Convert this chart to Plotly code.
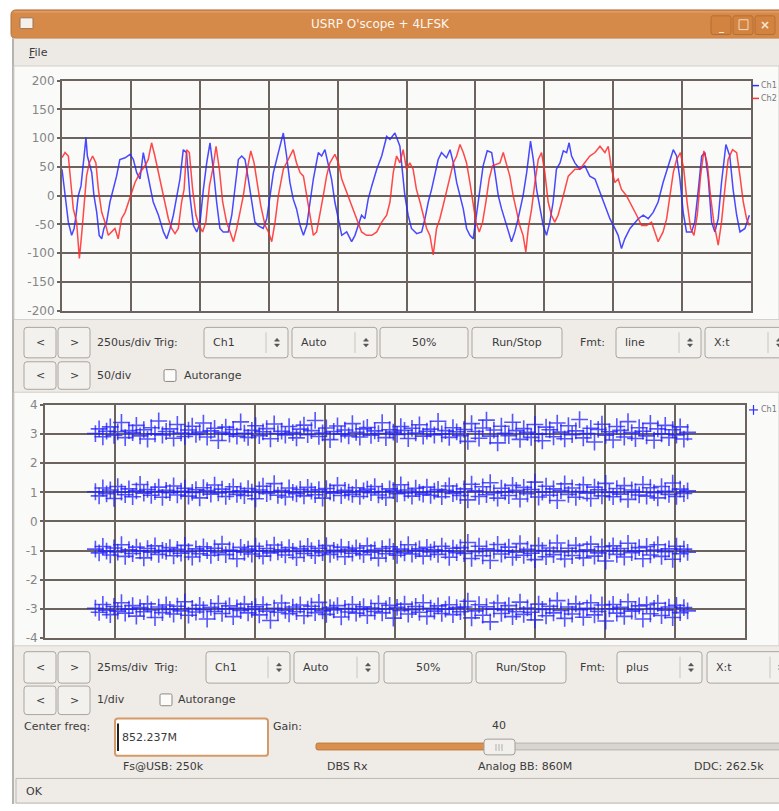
import numpy as np
import plotly.graph_objects as go

W, H = 779, 811

# ---------------- data: top scope (time in us, amplitude) ----------------
ch1_t = [0, 11, 23, 35, 44, 51, 59, 69, 77, 87, 92, 99, 108, 116, 126, 135, 144, 152, 162, 174, 186, 198, 210, 229, 247,
         259, 271, 283, 295, 307, 319, 331, 350, 368, 380, 392, 404, 416, 428, 440, 452, 464, 477, 489, 501, 513, 525, 537,
         549, 561, 573, 585, 603, 616, 628, 640, 652, 664, 676, 688, 700, 712, 730, 743, 755, 767, 785, 803, 815, 827, 839,
         851, 864, 876, 888, 900, 912, 930, 942, 954, 966, 978, 990, 1003, 1015, 1033, 1051, 1063, 1075, 1087, 1099, 1111,
         1124, 1142, 1160, 1178, 1190, 1208, 1226, 1236, 1244, 1256, 1268, 1287, 1305, 1317, 1329, 1341, 1353, 1365, 1377,
         1395, 1408, 1420, 1432, 1444, 1456, 1468, 1480, 1492, 1504, 1516, 1528, 1543, 1559, 1571, 1583, 1595, 1613, 1631,
         1643, 1655, 1673, 1686, 1700, 1710, 1722, 1734, 1746, 1758, 1770, 1782, 1794, 1807, 1819, 1831, 1840, 1849, 1861,
         1879, 1897, 1915, 1934, 1952, 1970, 1988, 2006, 2018, 2030, 2042, 2061, 2079, 2091, 2109, 2127, 2145, 2163, 2181,
         2200, 2218, 2230, 2242, 2254, 2266, 2284, 2296, 2309, 2321, 2333, 2345, 2357, 2369, 2381, 2393, 2409, 2423, 2435,
         2448, 2460, 2478, 2494]
ch1_v = [46, 0, -46, -69, -57, -34, 0, 17, 57, 101, 69, 57, 40, 0, -29, -69, -75, -57, -46, -11, 11, 34, 63, 66, 72,
         63, 40, 29, 75, 46, 17, -11, -34, -63, -75, -57, -34, 0, 29, 80, 75, 0, -52, -63, -46, 11, 57, 92,
         46, -11, -57, -63, -63, -34, 11, 63, 69, 63, 29, -11, -46, -52, -57, -40, 0, 40, 75, 109, 69, 23, -6,
         -23, -52, -69, -52, -11, 29, 75, 69, 80, 57, 29, -11, -40, -69, -63, -80, -69, -52, -34, -40, -6,
         17, 46, 69, 103, 98, 109, 86, 40, 0, -34, -57, -66, -63, -40, -11, 11, 40, 63, 75,
         66, 80, 57, 23, 0, -23, -57, -69, -75, -34, 11, 52, 78, 75, 40, 0, -23, -52, -80,
         -63, -40, 0, 40, 95, 63, 11, -23, -52, -69, -46, -11, 46, 57, 78, 75, 92, 69, 57,
         46, 52, 34, 29, 6, -17, -40, -57, -69, -92, -75, -57, -46, -40, -34, -40, -29, -11, 23,
         52, 80, 69, 29, -29, -63, -63, -46, 11, 69, 75, 29, -46, -63, -40, 23, 89, 69, 11,
         -34, -63, -57, -34]

ch2_t = [0, 11, 23, 31, 41, 53, 63, 71, 80, 89, 99, 111, 123, 132, 144, 156, 168, 180, 192, 204, 216, 229, 241, 253,
         265, 283, 301, 313, 325, 337, 350, 362, 374, 386, 398, 410, 422, 434, 443, 452, 462, 474, 486, 498, 510, 522,
         535, 547, 559, 571, 583, 597, 610, 622, 634, 646, 658, 670, 685, 697, 709, 721, 737, 749, 761, 773, 785, 803,
         821, 839, 851, 864, 876, 888, 900, 912, 924, 936, 948, 960, 972, 990, 1003, 1015, 1033, 1051, 1069, 1087, 1105,
         1124, 1142, 1160, 1178, 1190, 1202, 1214, 1226, 1238, 1250, 1262, 1274, 1286, 1299, 1311, 1323, 1335, 1347,
         1359, 1371, 1383, 1395, 1407, 1420, 1432, 1444, 1456, 1468, 1480, 1492, 1502, 1514, 1526, 1538, 1550, 1562,
         1577, 1589, 1601, 1613, 1625, 1637, 1649, 1661, 1673, 1683, 1692, 1704, 1716, 1728, 1740, 1752, 1764, 1776,
         1788, 1800, 1813, 1825, 1837, 1849, 1861, 1879, 1897, 1915, 1934, 1952, 1970, 1982, 1994, 2006, 2018, 2030,
         2048, 2067, 2085, 2103, 2121, 2139, 2151, 2163, 2181, 2194, 2206, 2218, 2230, 2244, 2256, 2268, 2281, 2293,
         2305, 2317, 2329, 2341, 2353, 2365, 2381, 2393, 2405, 2417, 2433, 2448, 2460, 2472, 2484, 2494]
ch2_v = [66, 75, 69, 29, -23, -46, -109, -69, -11, 34, 57, 69, 57, 11, -29, -46, -69, -63, -57, -75, -40, -29, -11, 6,
         23, 40, 52, 63, 92, 69, 40, 11, -17, -40, -57, -66, -57, -11, 11, 80, 75, 11, -34, -52, -63, -46,
         17, 46, 86, 46, -11, -46, -63, -80, -57, -29, 0, 40, 78, 57, 17, -17, -52, -63, -80, -46, 0, 46,
         63, 80, 57, 40, 34, 0, -34, -69, -63, -34, 0, 34, 57, 72, 57, 29, 6, -17, -40, -63, -69,
         -69, -63, -46, -34, -11, 40, 69, 57, 80, 46, 57, 46, 11, -11, -34, -57, -69, -103,
         -57, -40, -17, 6, 29, 57, 69, 89, 75, 57, 23, -11, -46, -63, -46, -11, 29, 52,
         55, 57, 75, 52, 34, 0, -29, -52, -69, -98, -57, -23, 23, 63, 75, 40, -11, -34,
         -46, -34, -11, 11, 34, 40, 46, 46, 57, 69, 75, 86, 75, 86, 46, 23, 29, 11,
         0, -17, -34, -52, -52, -46, -63, -80, -63, -40, 0, 40, 63, 75, 46, -11, -57, -69,
         -34, 34, 78, 57, 0, -46, -86, -46, 11, 63, 80, 75, 34, -11, -40, -52]

# ---------------- data: bottom scope (4-level symbols) ----------------
sym_p3 = [3.02, 3.18, 2.91, 3.10, 3.25, 2.96, 3.08, 3.40, 2.88, 3.12, 3.05, 3.30, 2.94, 3.15, 2.83, 3.22, 3.01, 3.45,
          2.97, 3.09, 3.18, 2.86, 3.33, 3.04, 2.92, 3.14, 3.27, 2.99, 3.07, 3.38, 2.90, 3.11, 3.20, 2.78, 3.06, 3.24,
          3.00, 3.16, 2.93, 3.42, 3.03, 2.89, 3.13, 3.29, 2.95, 3.08, 3.19, 2.84, 3.35, 3.02, 3.10, 2.97, 3.26, 3.05,
          2.87, 3.17, 3.31, 2.98, 3.12, 3.47, 2.92, 3.04, 3.21, 2.81, 3.09, 3.28, 3.00, 3.14, 2.94, 3.36, 3.06, 2.90,
          3.18, 3.23, 2.96, 3.11, 3.02, 3.39, 2.88, 3.15, 3.07, 2.99, 3.26, 3.13, 2.85, 3.20, 3.04, 3.32, 2.93, 3.10,
          3.17, 2.97, 3.44, 3.01, 3.12, 2.89, 3.22, 3.08, 2.95, 3.16,
          2.75, 3.36, 3.09, 2.86, 3.21, 3.48, 2.93, 3.14, 2.70, 3.27, 3.03, 2.95, 3.41, 3.12, 2.82, 3.19, 3.06, 2.89,
          3.33, 3.00, 2.77, 3.24, 3.15, 2.91, 3.38, 3.07, 2.84, 3.29, 2.98, 3.11, 3.50, 2.87, 3.02, 3.20, 2.73, 3.16,
          3.34, 2.96, 3.08, 2.80, 3.26, 3.13, 2.90, 3.43, 3.05, 2.85, 3.22, 3.10, 2.94, 3.37, 2.79, 3.18, 3.01, 3.30,
          2.88, 3.15, 2.97, 3.25, 2.83, 3.06]
sym_p1 = [1.02, 0.88, 1.15, 0.95, 1.08, 0.79, 1.20, 1.01, 0.92, 1.12, 0.85, 1.05, 1.27, 0.97, 1.10, 0.90, 1.03, 1.18,
          0.83, 1.07, 0.99, 1.22, 0.91, 1.04, 1.14, 0.87, 1.00, 1.09, 0.81, 1.16, 1.06, 0.94, 1.25, 0.98, 1.11, 0.86,
          1.03, 1.19, 0.93, 1.05, 0.89, 1.13, 1.01, 0.78, 1.08, 1.21, 0.96, 1.02, 1.30, 0.90, 1.06, 0.84, 1.15, 1.00,
          0.95, 1.10, 0.88, 1.17, 1.04, 0.92, 1.09, 0.80, 1.13, 1.02, 0.97, 1.24, 0.89, 1.07, 1.01, 0.93, 1.16, 0.86,
          1.05, 1.11, 0.99, 1.20, 0.91, 1.03, 0.82, 1.12, 1.06, 0.95, 1.26, 0.98, 1.08, 0.87, 1.14, 1.00, 0.94, 1.18,
          0.90, 1.04, 1.10, 0.85, 1.07, 1.22, 0.96, 1.02, 0.89, 1.12,
          0.74, 1.28, 1.05, 0.86, 1.19, 0.92, 1.33, 0.98, 0.80, 1.14, 1.02, 0.89, 1.24, 1.07, 0.77, 1.17, 0.95, 1.10,
          1.35, 0.84, 1.01, 1.21, 0.90, 1.12, 0.72, 1.06, 1.29, 0.93, 1.15, 0.83, 1.03, 1.26, 0.97, 0.79, 1.18, 1.09,
          0.88, 1.31, 1.00, 0.85, 1.13, 0.94, 1.23, 0.76, 1.08, 1.02, 0.91, 1.27, 0.87, 1.16, 0.99, 0.81, 1.20, 1.04,
          0.93, 1.32, 0.86, 1.11, 0.96, 1.05]
sym_m1 = [-0.95, -1.08, -0.86, -1.02, -1.15, -0.91, -1.05, -0.80, -1.20, -0.97, -1.10, -0.88, -1.01, -1.25, -0.93,
          -1.06, -0.84, -1.13, -0.99, -1.03, -0.90, -1.18, -0.96, -1.09, -0.82, -1.04, -1.22, -0.94, -1.11, -0.87,
          -1.00, -1.16, -0.92, -1.07, -0.78, -1.14, -0.98, -1.02, -1.28, -0.89, -1.06, -0.95, -1.12, -0.85, -1.01,
          -1.19, -0.93, -1.08, -0.81, -1.04, -0.97, -1.15, -0.90, -1.03, -1.24, -0.94, -1.10, -0.86, -1.00, -1.17,
          -0.92, -1.07, -0.83, -1.13, -0.99, -1.05, -0.88, -1.21, -0.96, -1.09, -0.91, -1.02, -1.14, -0.84, -1.06,
          -0.98, -1.26, -0.93, -1.11, -0.87, -1.03, -1.16, -0.95, -1.08, -0.80, -1.12, -1.00, -0.94, -1.19, -0.89,
          -1.05, -0.97, -1.13, -0.85, -1.01, -1.23, -0.92, -1.07, -0.90, -1.10,
          -0.72, -1.27, -1.04, -0.85, -1.18, -0.94, -1.34, -0.99, -0.79, -1.12, -1.01, -0.88, -1.23, -1.06, -0.76,
          -1.16, -0.96, -1.09, -1.31, -0.83, -1.00, -1.21, -0.91, -1.14, -0.74, -1.05, -1.29, -0.92, -1.17, -0.82,
          -1.03, -1.25, -0.97, -0.78, -1.19, -1.08, -0.87, -1.36, -1.00, -0.84, -1.13, -0.93, -1.22, -0.75, -1.07,
          -1.02, -0.90, -1.28, -0.86, -1.15, -0.98, -0.80, -1.20, -1.04, -0.94, -1.30, -0.85, -1.11, -0.95, -1.06]
sym_m3 = [-2.98, -3.12, -2.85, -3.05, -3.20, -2.92, -3.08, -2.79, -3.15, -3.01, -2.89, -3.25, -2.96, -3.10, -2.83,
          -3.04, -3.30, -2.94, -3.13, -2.87, -3.02, -3.18, -2.91, -3.07, -2.76, -3.22, -2.99, -3.11, -2.88, -3.03,
          -3.35, -2.95, -3.09, -2.82, -3.16, -3.00, -2.90, -3.27, -2.97, -3.06, -2.84, -3.14, -3.02, -2.93, -3.21,
          -2.86, -3.08, -3.40, -2.98, -3.12, -2.80, -3.05, -3.17, -2.94, -3.10, -2.87, -3.24, -3.01, -2.91, -3.13,
          -2.78, -3.07, -3.19, -2.96, -3.04, -2.89, -3.28, -2.99, -3.11, -2.85, -3.15, -3.02, -2.93, -3.23, -2.97,
          -3.09, -2.82, -3.14, -3.00, -2.88, -3.32, -2.95, -3.06, -2.84, -3.18, -3.03, -2.92, -3.12, -2.79, -3.26,
          -2.98, -3.08, -2.90, -3.16, -3.01, -2.86, -3.20, -2.96, -3.10, -2.94,
          -2.74, -3.31, -3.07, -2.86, -3.22, -2.93, -3.45, -3.01, -2.80, -3.16, -3.04, -2.89, -3.27, -3.10, -2.77,
          -3.19, -2.97, -3.12, -3.38, -2.84, -3.02, -3.24, -2.91, -3.14, -2.72, -3.06, -3.33, -2.94, -3.18, -2.83,
          -3.03, -3.29, -2.98, -2.79, -3.21, -3.09, -2.87, -3.42, -3.00, -2.85, -3.15, -2.95, -3.26, -2.76, -3.08,
          -3.03, -2.90, -3.35, -2.86, -3.17, -2.99, -2.81, -3.23, -3.05, -2.94, -3.30, -2.88, -3.13, -2.96, -3.07]
sym_t_start, sym_t_end = 18.0, 229.5  # ms

top_yticks = [200, 150, 100, 50, 0, -50, -100, -150, -200]
top_yticklabels = ["200", "150", "100", "50", "0", "-50", "-100", "-150", "-200"]
bot_yticks = [4, 3, 2, 1, 0, -1, -2, -3, -4]
bot_yticklabels = ["4", "3", "2", "1", "0", "-1", "-2", "-3", "-4"]

# ---------------- helpers ----------------
def X(p):
    return p / W

def Y(p):
    return 1 - p / H

FONT = "DejaVu Sans"
TXT = "#3b3b3b"
shapes = []
annots = []

def rect(x0, y0, x1, y1, fill, line=None, lw=1):
    shapes.append(dict(type="rect", xref="paper", yref="paper", x0=X(x0), x1=X(x1), y0=Y(y1), y1=Y(y0),
                       fillcolor=fill, line=dict(color=line or fill, width=lw if line else 0), layer="below"))

def rrect(x0, y0, x1, y1, r, fill, line, lw=1, layer="below"):
    p = (f"M {X(x0 + r)},{Y(y0)} L {X(x1 - r)},{Y(y0)} Q {X(x1)},{Y(y0)} {X(x1)},{Y(y0 + r)} "
         f"L {X(x1)},{Y(y1 - r)} Q {X(x1)},{Y(y1)} {X(x1 - r)},{Y(y1)} L {X(x0 + r)},{Y(y1)} "
         f"Q {X(x0)},{Y(y1)} {X(x0)},{Y(y1 - r)} L {X(x0)},{Y(y0 + r)} Q {X(x0)},{Y(y0)} {X(x0 + r)},{Y(y0)} Z")
    shapes.append(dict(type="path", xref="paper", yref="paper", path=p, fillcolor=fill,
                       line=dict(color=line, width=lw), layer=layer))

def hline(x0, x1, y, color, w=1, layer="below"):
    shapes.append(dict(type="line", xref="paper", yref="paper", x0=X(x0), x1=X(x1), y0=Y(y), y1=Y(y),
                       line=dict(color=color, width=w), layer=layer))

def vline(x, y0, y1, color, w=1, layer="below"):
    shapes.append(dict(type="line", xref="paper", yref="paper", x0=X(x), x1=X(x), y0=Y(y0), y1=Y(y1),
                       line=dict(color=color, width=w), layer=layer))

def text(x, y, s, size=11, color=TXT, anchor="left", bold=False):
    annots.append(dict(xref="paper", yref="paper", x=X(x), y=Y(y), text=(f"<b>{s}</b>" if bold else s),
                       showarrow=False, xanchor=anchor, yanchor="middle",
                       font=dict(family=FONT, size=size, color=color)))

def tri(cx, cy, up):
    d = 2.5
    if up:
        p = f"M {X(cx - d)},{Y(cy)} L {X(cx + d)},{Y(cy)} L {X(cx)},{Y(cy - 3)} Z"
    else:
        p = f"M {X(cx - d)},{Y(cy)} L {X(cx + d)},{Y(cy)} L {X(cx)},{Y(cy + 3)} Z"
    shapes.append(dict(type="path", xref="paper", yref="paper", path=p, fillcolor="#555",
                       line=dict(color="#555", width=0.5), layer="above"))

BTN_FILL = "#f3f1ee"
BTN_LINE = "#aaa59f"

def button(x0, x1, y0, y1, label):
    rrect(x0, y0, x1, y1, 3, BTN_FILL, BTN_LINE)
    text((x0 + x1) / 2, (y0 + y1) / 2, label, anchor="center")

def combo(x0, x1, y0, y1, label):
    rrect(x0, y0, x1, y1, 3, BTN_FILL, BTN_LINE)
    vline(x1 - 22, y0 + 5, y1 - 5, "#c9c4be")
    text(x0 + 7, (y0 + y1) / 2, label)
    cy = (y0 + y1) / 2
    tri(x1 - 11, cy - 1.5, True)
    tri(x1 - 11, cy + 1.5, False)

def checkbox(x, y):
    rrect(x, y, x + 12, y + 12, 1.5, "#fbfbfa", "#8d8882")

# ---------------- window chrome ----------------
rect(12, 30, 779, 811, "#efebe7")
rrect(11, 3, 790, 32, 5, "#d68a4a", "#b4713a")
hline(14, 779, 5, "#e6a871", 1)
text(380, 17, "USRP O'scope + 4LFSK", size=12, color="#fdf6ee", anchor="center")
rrect(20, 11, 33, 22, 1, "#f5f0ea", "#9a7352")
for bx in (711, 733, 755):
    rrect(bx, 9, bx + 20, 28, 2, "#d2833f", "#b66e33")
text(721, 20, "_", size=10, color="#f6e6d6", anchor="center", bold=True)
rect(739, 13, 748, 23, "rgba(0,0,0,0)", "#f1dcc6", 1)
text(765, 18, "×", size=12, color="#f6e6d6", anchor="center", bold=True)

rect(12, 32, 779, 60, "#edeae6")
text(27, 46, "<u>F</u>ile", size=11)
vline(13, 32, 811, "#a5a19c", 1.5)

# plot panels
rect(14, 60, 779, 318, "#fafaf9", "#d3cfca", 1)
rect(14, 392, 779, 650, "#fafaf9", "#d3cfca", 1)

# ---------------- control rows ----------------
button(24, 56, 326, 357, "&lt;")
button(58, 90, 326, 357, "&gt;")
text(95, 341, "250us/div Trig:")
combo(204, 288, 326, 357, "Ch1")
combo(292, 377, 326, 357, "Auto")
button(380, 468, 326, 357, "50%")
button(472, 562, 326, 357, "Run/Stop")
text(578, 341, "Fmt:")
combo(616, 701, 326, 357, "line")
combo(705, 790, 326, 357, "X:t")

button(24, 56, 361, 389, "&lt;")
button(58, 90, 361, 389, "&gt;")
text(95, 375, "50/div")
checkbox(164, 369)
text(182, 375, "Autorange")

button(24, 56, 656, 688, "&lt;")
button(58, 90, 656, 688, "&gt;")
text(95, 672, "25ms/div  Trig:")
combo(206, 290, 656, 688, "Ch1")
combo(294, 379, 656, 688, "Auto")
button(384, 472, 656, 688, "50%")
button(476, 566, 656, 688, "Run/Stop")
text(578, 672, "Fmt:")
combo(617, 702, 656, 688, "plus")
combo(707, 792, 656, 688, "X:t")

button(24, 56, 691, 720, "&lt;")
button(58, 90, 691, 720, "&gt;")
text(95, 705, "1/div")
checkbox(160, 699)
text(176, 705, "Autorange")

text(22, 732, "Center freq:")
rrect(115, 724, 268, 762, 3, "#ffffff", "#d59a66", 2)
vline(118, 729, 757, "#222222", 2, layer="above")
text(120, 743, "852.237M")
text(271, 732, "Gain:")
text(499, 731, "40", anchor="center")
rrect(316, 749, 490, 756, 2, "#d98f4e", "#c07a3e")
rrect(512, 749, 800, 756, 2, "#d8d4cf", "#b8b3ad")
rrect(484, 745, 515, 761, 3, "#f2f0ed", "#a39e98")
for gx in (496, 499, 502):
    vline(gx, 750, 757, "#b3aea8")

text(121, 773, "Fs@USB: 250k")
text(325, 773, "DBS Rx")
text(476, 773, "Analog BB: 860M")
text(692, 773, "DDC: 262.5k")

rect(16, 785, 790, 810, "#efebe7", "#bdb8b2", 1)
text(24, 798, "OK")

# legends (small, at the right edge)
hline(752, 759, 80, "#3030ff", 1.5, layer="above")
text(759, 80, "Ch1", size=8, color="#777")
hline(752, 759, 93, "#ff3030", 1.5, layer="above")
text(759, 93, "Ch2", size=8, color="#777")
hline(749, 758, 410, "#3030ff", 1.2, layer="above")
vline(753.5, 405, 415, "#3030ff", 1.2, layer="above")
text(759, 410, "Ch1", size=8, color="#777")

# ---------------- traces ----------------
fig = go.Figure()
fig.add_trace(go.Scatter(x=ch1_t, y=ch1_v, mode="lines", line=dict(color="rgba(40,40,255,0.85)", width=1.5),
                         xaxis="x", yaxis="y", name="Ch1", showlegend=False))
fig.add_trace(go.Scatter(x=ch2_t, y=ch2_v, mode="lines", line=dict(color="rgba(255,40,40,0.85)", width=1.5),
                         xaxis="x", yaxis="y", name="Ch2", showlegend=False))

for arr in (sym_p3, sym_p1, sym_m1, sym_m3):
    t = np.linspace(sym_t_start, sym_t_end, len(arr))
    fig.add_trace(go.Scatter(x=t, y=arr, mode="markers", xaxis="x2", yaxis="y2", showlegend=False,
                             marker=dict(symbol="cross-thin", size=12,
                                         line=dict(color="rgba(30,30,255,0.75)", width=1.6))))

GRID = "#6c635e"
common_x = dict(showticklabels=False, showgrid=True, gridcolor=GRID, gridwidth=2, zeroline=False,
                showline=True, linecolor=GRID, linewidth=2, mirror=True, ticks="", fixedrange=True)
common_y = dict(showgrid=True, gridcolor=GRID, gridwidth=2, zeroline=False, showline=True, linecolor=GRID,
                linewidth=2, mirror=True, ticks="outside", ticklen=3, tickcolor=GRID, tickwidth=2,
                tickfont=dict(family=FONT, size=12, color="#858585"), fixedrange=True)

fig.update_layout(
    width=W, height=H, margin=dict(l=0, r=0, t=0, b=0),
    paper_bgcolor="#ffffff", plot_bgcolor="#ffffff",
    showlegend=False, hovermode=False,
    xaxis=dict(domain=[X(62), X(751)], range=[0, 2500], dtick=250, anchor="y", **common_x),
    yaxis=dict(domain=[Y(309), Y(75)], range=[-200, 200], tickvals=top_yticks, ticktext=top_yticklabels,
               anchor="x", **common_y),
    xaxis2=dict(domain=[X(45), X(745)], range=[0, 250], dtick=25, anchor="y2", **common_x),
    yaxis2=dict(domain=[Y(642), Y(405)], range=[-4, 4], tickvals=bot_yticks, ticktext=bot_yticklabels,
                anchor="x2", **common_y),
    shapes=shapes, annotations=annots,
)

fig.write_html("out.html", config={"displayModeBar": False},
               post_script="document.body.style.margin='0';document.body.style.overflow='hidden';")
